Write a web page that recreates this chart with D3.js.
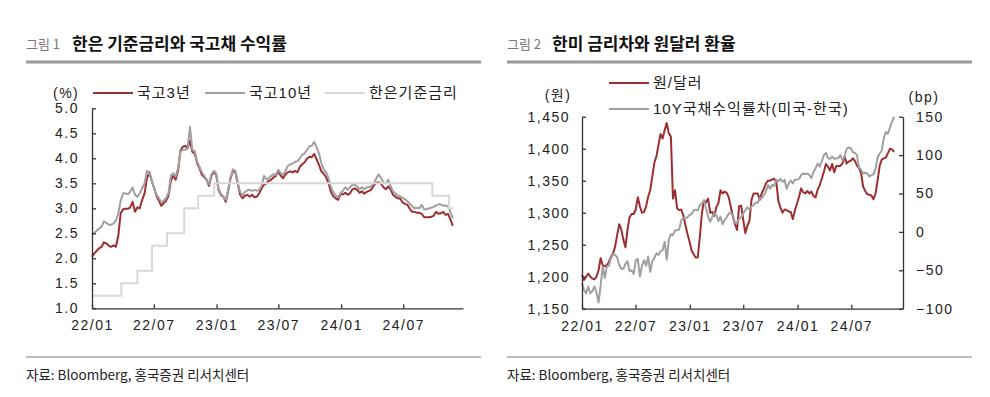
<!DOCTYPE html>
<html>
<head>
<meta charset="utf-8">
<script src="https://cdn.jsdelivr.net/npm/d3@7"></script>
<style>
  body { margin: 0; background: #fff; }
  svg { display: block; }
</style>
</head>
<body>
<div id="container"></div>
<script>
const WIDTH = 990;
const HEIGHT = 397;
const FONT = "'Liberation Sans', 'Noto Sans CJK KR', sans-serif";
const KFONT = "'Noto Sans CJK KR', sans-serif";

const RED = '#9e2f31';
const GREY = '#a0a0a0';
const LIGHT = '#d8d8d8';
const AXIS = '#333';

// weekly observations, first one in the first week of 2022
const START = new Date(2022, 0, 1);
const END = new Date(2024, 11, 23);

// 그림 1 : 국고3년, 국고10년 (%)
const ktb3y = [
  2.03, 2.1, 2.15, 2.2, 2.23, 2.32, 2.3, 2.25, 2.23, 2.26,
  2.23, 2.45, 2.9, 2.98, 2.99, 2.99, 3.02, 3.13, 2.93, 3.02,
  3.0, 3.17, 3.3, 3.6, 3.72, 3.55, 3.4, 3.25, 3.15, 3.05,
  3.1, 3.15, 3.25, 3.55, 3.65, 3.57, 3.75, 4.15, 4.23, 4.25,
  4.2, 4.35, 4.13, 4.1, 3.9, 3.8, 3.67, 3.62, 3.57, 3.45,
  3.65, 3.73, 3.67, 3.37, 3.27, 3.23, 3.13, 3.35, 3.6, 3.75,
  3.72, 3.5, 3.27, 3.2, 3.25, 3.27, 3.23, 3.27, 3.22, 3.23,
  3.3, 3.4, 3.47, 3.5, 3.55, 3.57, 3.62, 3.65, 3.73, 3.65,
  3.6, 3.68, 3.72, 3.74, 3.72, 3.75, 3.72, 3.83, 3.88, 3.92,
  3.99, 4.03, 4.02, 4.09, 3.98, 3.87, 3.74, 3.69, 3.62, 3.5,
  3.33, 3.24, 3.2, 3.17, 3.28, 3.28, 3.31, 3.27, 3.3, 3.38,
  3.4, 3.37, 3.31, 3.34, 3.29, 3.33, 3.35, 3.38, 3.46, 3.51,
  3.52, 3.49, 3.42, 3.38, 3.44, 3.38, 3.27, 3.23, 3.2, 3.19,
  3.12, 3.09, 3.07, 2.99, 2.93, 2.93, 2.91, 2.91, 2.89, 2.82,
  2.82, 2.82, 2.83, 2.85, 2.93, 2.89, 2.9, 2.93, 2.87, 2.89,
  2.78, 2.65
];
const ktb10y = [
  2.47, 2.51, 2.55, 2.6, 2.63, 2.74, 2.71, 2.67, 2.67, 2.7,
  2.75, 2.9, 3.15, 3.3, 3.3, 3.28, 3.33, 3.42, 3.27, 3.23,
  3.3, 3.4, 3.5, 3.75, 3.7, 3.55, 3.4, 3.27, 3.2, 3.12,
  3.15, 3.2, 3.3, 3.65, 3.7, 3.63, 3.8, 4.13, 4.17, 4.17,
  4.2, 4.63, 4.17, 4.15, 3.93, 3.83, 3.72, 3.65, 3.57, 3.48,
  3.68, 3.75, 3.7, 3.35, 3.25, 3.23, 3.17, 3.37, 3.62, 3.78,
  3.75, 3.5, 3.33, 3.25, 3.33, 3.36, 3.37, 3.35, 3.37, 3.35,
  3.37, 3.45, 3.65, 3.58, 3.6, 3.65, 3.68, 3.67, 3.77, 3.7,
  3.67, 3.75, 3.85, 3.88, 3.9, 3.93, 3.94, 4.0, 4.07, 4.1,
  4.17, 4.24, 4.25, 4.33, 4.22, 4.1, 3.9, 3.78, 3.72, 3.6,
  3.42, 3.32, 3.26, 3.22, 3.3, 3.35, 3.42, 3.37, 3.42, 3.47,
  3.47, 3.44, 3.38, 3.42, 3.38, 3.42, 3.42, 3.45, 3.5, 3.6,
  3.68, 3.6, 3.52, 3.5, 3.57, 3.45, 3.34, 3.3, 3.25, 3.24,
  3.21, 3.18, 3.14, 3.09, 3.04, 3.0, 3.01, 3.0, 3.07, 2.98,
  2.98, 3.0, 3.01, 3.03, 3.06, 3.08, 3.08, 3.05, 3.06, 3.04,
  2.93, 2.8
];
// 한은기준금리 : change dates and levels (step)
const baseRateDates = ['2022-01-01', '2022-03-28', '2022-05-14', '2022-06-26', '2022-08-09',
  '2022-09-28', '2022-11-08', '2022-12-25', '2024-09-24', '2024-11-12', '2024-11-24'];
const baseRateLevels = [1.25, 1.5, 1.75, 2.25, 2.5, 3.0, 3.25, 3.5, 3.25, 3.0, 3.0];

// 그림 2 : 원/달러 (원), 10Y 국채수익률차 미국-한국 (bp)
const usdkrw = [
  1203, 1195, 1200, 1205, 1200, 1197, 1196, 1200, 1210, 1229,
  1218, 1216, 1218, 1223, 1231, 1236, 1247, 1265, 1282, 1274,
  1258, 1246, 1273, 1293, 1298, 1298, 1305, 1324, 1310, 1300,
  1301, 1310, 1325, 1335, 1356, 1378, 1388, 1406, 1423, 1416,
  1429, 1440, 1424, 1419, 1322, 1335, 1307, 1304, 1305, 1296,
  1281, 1267, 1255, 1241, 1235, 1230, 1230, 1262, 1299, 1319,
  1316, 1322, 1300, 1301, 1295, 1309, 1315, 1335, 1330, 1333,
  1331, 1324, 1309, 1294, 1282, 1273, 1310, 1311, 1289, 1268,
  1280, 1287, 1320, 1330, 1330, 1330, 1320, 1331, 1337, 1346,
  1350, 1350, 1352, 1353, 1348, 1318, 1308, 1300, 1305, 1304,
  1302, 1301, 1290, 1304, 1314, 1325, 1338, 1332, 1330, 1334,
  1330, 1333, 1326, 1324, 1336, 1343, 1353, 1364, 1376, 1372,
  1366, 1376, 1363, 1373, 1373, 1373, 1377, 1388, 1377, 1380,
  1381, 1385, 1381, 1374, 1370, 1362, 1341, 1334, 1329, 1328,
  1327, 1321, 1330, 1350, 1373, 1383, 1385, 1386, 1393, 1400,
  1399, 1395
];
const spreadBp = [
  -67, -76, -80, -71, -80, -77, -71, -79, -92, -70,
  -45, -60, -45, -44, -34, -29, -30, -33, -43, -48,
  -48, -42, -38, -51, -50, -55, -37, -35, -58, -44,
  -37, -44, -32, -52, -38, -34, -28, -30, -25, -24,
  -13, -36, -10, -3, -4, 2, 2, 3, 15, 18,
  18, 19, 22, 23, 28, 29, 28, 35, 37, 41,
  30, 20, 13, 19, 24, 22, 14, 20, 10, 15,
  19, 24, 25, 22, 12, 12, 17, 19, 24, 28,
  32, 29, 33, 35, 38, 38, 44, 44, 48, 53,
  61, 56, 61, 60, 68, 66, 69, 65, 68, 56,
  63, 67, 63, 68, 68, 69, 74, 76, 75, 76,
  74, 70, 78, 83, 89, 85, 92, 100, 103, 96,
  95, 98, 95, 96, 96, 100, 93, 98, 108, 110,
  109, 104, 103, 100, 84, 81, 76, 77, 76, 72,
  74, 75, 82, 97, 102, 106, 122, 130, 128, 136,
  144, 150
];

const rateTicks = [1.0, 1.5, 2.0, 2.5, 3.0, 3.5, 4.0, 4.5, 5.0];
const krwTicks = [1150, 1200, 1250, 1300, 1350, 1400, 1450];
const bpTicks = [-100, -50, 0, 50, 100, 150];

const weeks = d3.range(ktb3y.length).map(i => d3.timeDay.offset(START, i * 7));
const parseDate = d3.timeParse('%Y-%m-%d');

const svg = d3.select('#container')
  .append('svg')
    .attr('width', WIDTH)
    .attr('height', HEIGHT);

/** frames: titles, rules, source **/
drawFrame(26, 481, '그림 1', 72, '한은 기준금리와 국고채 수익률');
drawFrame(507, 972, '그림 2', 552, '한미 금리차와 원달러 환율');

function drawFrame(x0, x1, num, titleX, title) {
  svg.append('text')
    .attr('x', x0).attr('y', 49)
    .style('font-family', KFONT).style('font-size', '13px')
    .attr('fill', '#777')
    .text(num);
  svg.append('text')
    .attr('x', titleX).attr('y', 50)
    .style('font-family', KFONT).style('font-size', '17px').style('font-weight', 'bold')
    .attr('fill', '#111')
    .text(title);
  svg.append('line')
    .attr('x1', x0).attr('x2', x1).attr('y1', 62).attr('y2', 62)
    .attr('stroke', '#9a9a9a').attr('stroke-width', 3);
  svg.append('line')
    .attr('x1', x0).attr('x2', x1).attr('y1', 357).attr('y2', 357)
    .attr('stroke', '#a8a8a8').attr('stroke-width', 1.5);
  svg.append('text')
    .attr('x', x0).attr('y', 380)
    .style('font-family', KFONT).style('font-size', '13.5px')
    .attr('fill', '#222')
    .text('자료: Bloomberg, 홍국증권 리서치센터');
}

function styleAxis(g) {
  g.select('.domain').attr('stroke', AXIS).attr('stroke-width', 1.3);
  g.selectAll('.tick line').attr('stroke', AXIS).attr('stroke-width', 1.3);
  g.selectAll('.tick text')
    .attr('fill', '#222')
    .style('font-family', FONT).style('font-size', '14px')
    .style('letter-spacing', '1.5px');
}

function legendItem(x, y, colour, label) {
  svg.append('line')
    .attr('x1', x).attr('x2', x + 40).attr('y1', y).attr('y2', y)
    .attr('stroke', colour).attr('stroke-width', 2);
  svg.append('text')
    .attr('x', x + 44).attr('y', y + 5)
    .style('font-family', FONT).style('font-size', '15px')
    .style('letter-spacing', '1px')
    .attr('fill', '#222')
    .text(label);
}

function unitLabel(x, y, label, anchor) {
  svg.append('text')
    .attr('x', x).attr('y', y)
    .attr('text-anchor', anchor || 'start')
    .style('font-family', FONT).style('font-size', '14px')
    .style('letter-spacing', '1.5px')
    .attr('fill', '#222')
    .text(label);
}

/** 그림 1 **/
const p1 = { left: 92, right: 463, top: 108.3, bottom: 308.3 };

const x1 = d3.scaleTime().domain([START, END]).range([p1.left, p1.right]);
const yRate = d3.scaleLinear().domain([1, 5]).range([p1.bottom, p1.top]);

const rateLine = d3.line()
  .x((d, i) => x1(weeks[i]))
  .y(d => yRate(d));

svg.append('path')
  .attr('d', rateLine(ktb3y))
  .attr('fill', 'none').attr('stroke', RED).attr('stroke-width', 2)
  .attr('stroke-linejoin', 'round');
svg.append('path')
  .attr('d', rateLine(ktb10y))
  .attr('fill', 'none').attr('stroke', GREY).attr('stroke-width', 2)
  .attr('stroke-linejoin', 'round');

const baseLine = d3.line()
  .curve(d3.curveStepAfter)
  .x((d, i) => x1(parseDate(baseRateDates[i])))
  .y(d => yRate(d));
svg.append('path')
  .attr('d', baseLine(baseRateLevels))
  .attr('fill', 'none').attr('stroke', LIGHT).attr('stroke-width', 2);

svg.append('g')
  .attr('transform', `translate(${p1.left},0)`)
  .call(d3.axisLeft(yRate).tickValues(rateTicks).tickFormat(d3.format('.1f'))
    .tickSize(-4).tickSizeOuter(0).tickPadding(13))
  .call(styleAxis);

svg.append('g')
  .attr('transform', `translate(0,${p1.bottom})`)
  .call(d3.axisBottom(x1).ticks(d3.timeMonth.every(6)).tickFormat(d3.timeFormat('%y/%m'))
    .tickSize(-4).tickSizeOuter(0).tickPadding(12))
  .call(styleAxis);

unitLabel(53, 98, '(%)');
legendItem(93, 93, RED, '국고3년');
legendItem(205, 93, GREY, '국고10년');
legendItem(325, 93, LIGHT, '한은기준금리');

/** 그림 2 **/
const p2 = { left: 582, right: 903, top: 116.7, bottom: 308.7 };

const x2 = d3.scaleTime().domain([START, END]).range([p2.left, p2.right]);
const yKrw = d3.scaleLinear().domain([1150, 1450]).range([p2.bottom, p2.top]);
const yBp = d3.scaleLinear().domain([-100, 150]).range([p2.bottom, p2.top]);

svg.append('path')
  .attr('d', d3.line().x((d, i) => x2(weeks[i])).y(d => yKrw(d))(usdkrw))
  .attr('fill', 'none').attr('stroke', RED).attr('stroke-width', 2)
  .attr('stroke-linejoin', 'round');
svg.append('path')
  .attr('d', d3.line().x((d, i) => x2(weeks[i])).y(d => yBp(d))(spreadBp))
  .attr('fill', 'none').attr('stroke', GREY).attr('stroke-width', 2)
  .attr('stroke-linejoin', 'round');

svg.append('g')
  .attr('transform', `translate(${p2.left},0)`)
  .call(d3.axisLeft(yKrw).tickValues(krwTicks).tickFormat(d3.format(','))
    .tickSize(-4).tickSizeOuter(0).tickPadding(12))
  .call(styleAxis);

svg.append('g')
  .attr('transform', `translate(${p2.right},0)`)
  .call(d3.axisRight(yBp).tickValues(bpTicks)
    .tickSize(-4).tickSizeOuter(0).tickPadding(13))
  .call(styleAxis);

svg.append('g')
  .attr('transform', `translate(0,${p2.bottom})`)
  .call(d3.axisBottom(x2).ticks(d3.timeMonth.every(6)).tickFormat(d3.timeFormat('%y/%m'))
    .tickSize(-4).tickSizeOuter(0).tickPadding(12))
  .call(styleAxis);

unitLabel(558, 100, '(원)', 'middle');
unitLabel(924, 102, '(bp)', 'middle');
legendItem(609, 83, RED, '원/달러');
legendItem(609, 109, GREY, '10Y국채수익률차(미국-한국)');
</script>
</body>
</html>
